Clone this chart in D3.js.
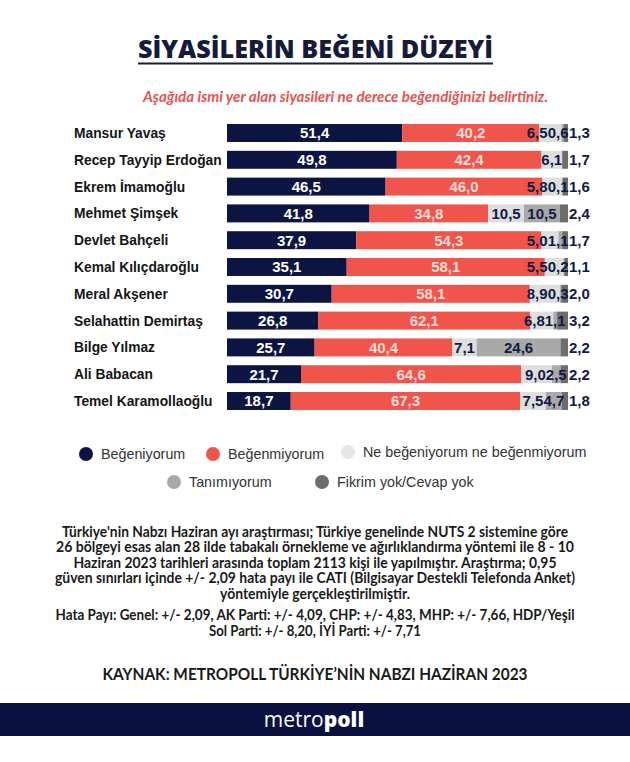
<!DOCTYPE html>
<html><head><meta charset="utf-8">
<script src="https://cdn.jsdelivr.net/npm/d3@7"></script>
<style>body{margin:0;background:#fff}svg{display:block}</style>
</head><body>
<script>
// ---- data ----
const names = ["Mansur Yavaş","Recep Tayyip Erdoğan","Ekrem İmamoğlu","Mehmet Şimşek","Devlet Bahçeli","Kemal Kılıçdaroğlu","Meral Akşener","Selahattin Demirtaş","Bilge Yılmaz","Ali Babacan","Temel Karamollaoğlu"];
const begeniyorum   = [51.4,49.8,46.5,41.8,37.9,35.1,30.7,26.8,25.7,21.7,18.7];
const begenmiyorum  = [40.2,42.4,46.0,34.8,54.3,58.1,58.1,62.1,40.4,64.6,67.3];
const ne            = [6.5,6.1,5.8,10.5,5.0,5.5,8.9,6.8,7.1,9.0,7.5];
const tanimiyorum   = [0.6,0.0,0.1,10.5,1.1,0.2,0.3,1.1,24.6,2.5,4.7];
const fikrimYok     = [1.3,1.7,1.6,2.4,1.7,1.1,2.0,3.2,2.2,2.2,1.8];
const seriesNames = ["Beğeniyorum","Beğenmiyorum","Ne beğeniyorum ne beğenmiyorum","Tanımıyorum","Fikrim yok/Cevap yok"];
const xTicks = [0,100];

const title = "SİYASİLERİN BEĞENİ DÜZEYİ";
const subtitle = "Aşağıda ismi yer alan siyasileri ne derece beğendiğinizi belirtiniz.";
const noteLines = [
 "Türkiye'nin Nabzı Haziran ayı araştırması; Türkiye genelinde NUTS 2 sistemine göre",
 "26 bölgeyi esas alan 28 ilde tabakalı örnekleme ve ağırlıklandırma yöntemi ile 8 - 10",
 "Haziran 2023 tarihleri arasında toplam 2113 kişi ile yapılmıştır. Araştırma; 0,95",
 "güven sınırları içinde +/- 2,09 hata payı ile CATI (Bilgisayar Destekli Telefonda Anket)",
 "yöntemiyle gerçekleştirilmiştir."];
const errLines = [
 "Hata Payı: Genel: +/- 2,09, AK Parti: +/- 4,09, CHP: +/- 4,83, MHP: +/- 7,66, HDP/Yeşil",
 "Sol Parti: +/- 8,20, İYİ Parti: +/- 7,71"];
const source = "KAYNAK: METROPOLL TÜRKİYE’NİN NABZI HAZİRAN 2023";

// ---- styles ----
const W = 630, H = 762;
const colors = ["#0c1441","#f1544b","#dedede","#a9a9a9","#6d6d6d"];
const navy = "#111a44";

const svg = d3.select("body").append("svg").attr("width",W).attr("height",H);
svg.append("rect").attr("width",W).attr("height",H).attr("fill","#fff");

// title
svg.append("text").attr("x",138).attr("y",58)
  .attr("font-family","Open Sans").attr("font-weight",800).attr("font-size",25)
  .attr("fill","#161b3c").attr("textLength",355).attr("lengthAdjust","spacingAndGlyphs").text(title);
svg.append("rect").attr("x",138).attr("y",62.5).attr("width",355).attr("height",2).attr("fill","#161b3c");

svg.append("text").attr("x",143).attr("y",102)
  .attr("font-family","Lato").attr("font-weight",700).attr("font-style","italic").attr("font-size",14.5)
  .attr("fill","#e8524c").attr("textLength",405).attr("lengthAdjust","spacingAndGlyphs").text(subtitle);

// scales
const x = d3.scaleLinear().domain(d3.extent(xTicks)).range([227,568]);
const y = d3.scaleBand().domain(names).range([119.6, 119.6+26.8*names.length]).paddingInner(0.33).paddingOuter(0.165);

const data = names.map((n,i)=>({name:n, vals:[begeniyorum[i],begenmiyorum[i],ne[i],tanimiyorum[i],fikrimYok[i]]}));
const stack = data.map(d=>{let acc=0;return {name:d.name, segs:d.vals.map((v,k)=>{const s={k,v,x0:acc,x1:acc+v};acc+=v;return s;})};});

// names
svg.append("g").selectAll("text").data(names).join("text")
  .attr("x",74).attr("y",d=>y(d)+y.bandwidth()/2+5)
  .attr("font-family","Liberation Sans").attr("font-weight",700).attr("font-size",13.8)
  .attr("fill","#151515").text(d=>d);

const rows = svg.append("g").selectAll("g").data(stack).join("g")
  .attr("transform",d=>`translate(0,${y(d.name)})`);
rows.selectAll("rect").data(d=>d.segs.filter(s=>s.v>0)).join("rect")
  .attr("x",s=>x(s.x0)).attr("width",s=>x(s.x1)-x(s.x0))
  .attr("y",0).attr("height",y.bandwidth()).attr("fill",s=>colors[s.k]);

const bh = y.bandwidth();
rows.each(function(d){
  const g = d3.select(this);
  const lab = (s,xx,anchor,fill)=>g.append("text").attr("x",xx).attr("y",bh/2+5.5)
     .attr("text-anchor",anchor).attr("font-family","Liberation Sans").attr("font-weight",700)
     .attr("font-size",15).attr("fill",fill).text(d3.format(".1f")(s.v).replace(".",","));
  const s = d.segs;
  lab(s[0], x((s[0].x0+s[0].x1)/2), "middle", "#ffffff");
  lab(s[1], x((s[1].x0+s[1].x1)/2), "middle", "#fadcd8");
  lab(s[4], x(100)+1, "start", navy);
  let limit = x(100)+0.5;
  [3,2].forEach(k=>{
    if (s[k].v<=0) return;
    const el = lab(s[k], x((s[k].x0+s[k].x1)/2), "middle", navy);
    const w = el.node().getComputedTextLength();
    let cx = x((s[k].x0+s[k].x1)/2);
    if (cx + w/2 > limit) cx = limit - w/2;
    el.attr("x",cx);
    limit = cx - w/2;
  });
});

// legend
const legendPos = {0:[86,454],1:[213,454],2:[348,452],3:[174,482],4:[322,482]};
seriesNames.forEach((nm,k)=>{
  const [cx,cy] = legendPos[k];
  svg.append("circle").attr("cx",cx).attr("cy",cy).attr("r",7).attr("fill",k===2?"#e6e6e6":colors[k]);
  svg.append("text").attr("x",cx+15).attr("y",cy+5).attr("font-family","Liberation Sans")
    .attr("font-size",14.3).attr("fill","#333").text(nm);
});

// notes
const noteW = [506,518,483,520,190];
noteLines.forEach((l,i)=>{
  svg.append("text").attr("x",315).attr("y",536.5+i*15.5).attr("text-anchor","middle")
   .attr("font-family","Lato").attr("font-weight",700).attr("font-size",14.5).attr("fill","#1a1a1a")
   .attr("textLength",noteW[i]).attr("lengthAdjust","spacingAndGlyphs").text(l);
});
const errW = [519,212];
errLines.forEach((l,i)=>{
  svg.append("text").attr("x",315).attr("y",620+i*16).attr("text-anchor","middle")
   .attr("font-family","Lato").attr("font-weight",700).attr("font-size",14.5).attr("fill","#1a1a1a")
   .attr("textLength",errW[i]).attr("lengthAdjust","spacingAndGlyphs").text(l);
});
svg.append("text").attr("x",315).attr("y",679.5).attr("text-anchor","middle")
   .attr("font-family","Lato").attr("font-weight",700).attr("font-size",17).attr("fill","#1a1a1a")
   .attr("textLength",425).attr("lengthAdjust","spacingAndGlyphs").text(source);

// footer band
svg.append("rect").attr("x",0).attr("y",703).attr("width",W).attr("height",33).attr("fill","#0a1040");
const ft = svg.append("text").attr("x",314).attr("y",727).attr("text-anchor","middle")
  .attr("font-family","Open Sans").attr("font-size",21).attr("fill","#fff");
ft.append("tspan").attr("font-weight",400).text("metro");
ft.append("tspan").attr("font-weight",800).text("poll");
</script>
</body></html>
